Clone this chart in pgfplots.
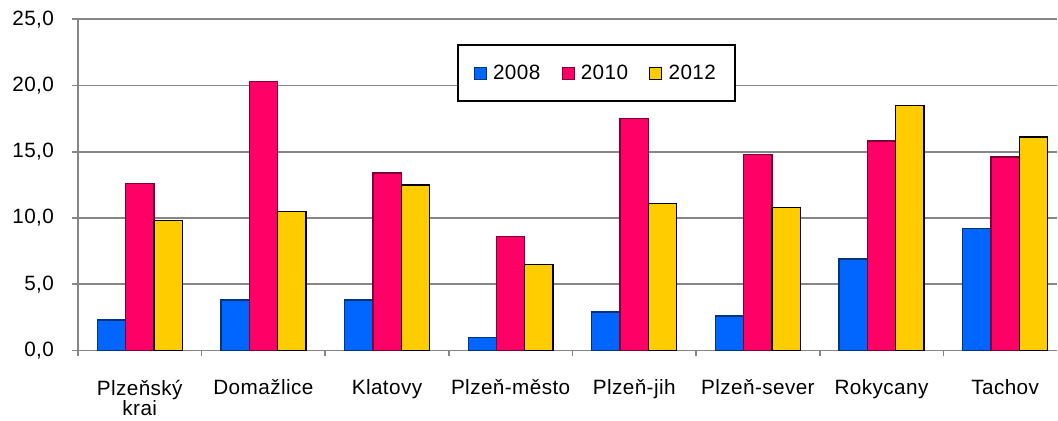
\documentclass[border=0pt]{standalone}
\usepackage{fontspec}
\setmainfont{Liberation Sans}[LetterSpace=2]
\usepackage{pgfplots}
\pgfplotsset{compat=1.18}
\definecolor{cblue}{HTML}{0066FF}
\definecolor{cred}{HTML}{FF0066}
\definecolor{cyel}{HTML}{FFCC00}
\definecolor{gridc}{HTML}{868686}
\begin{document}
\begin{tikzpicture}
\begin{axis}[
  scale only axis,
  width=735bp, height=248.6bp,
  xmin=0.5, xmax=8.42,
  ymin=0, ymax=25,
  ybar=0pt, bar width=0.229,
  axis x line=bottom, axis y line=left,
  axis line style={-, gridc, line width=1.4bp},
  tick align=outside,
  xtick={1,...,8},
  xticklabels={{Plzeňský\\krai},Domažlice,Klatovy,Plzeň-město,Plzeň-jih,Plzeň-sever,Rokycany,Tachov},
  x tick label style={align=center, anchor=north, yshift=-14bp, font=\fontsize{15.6}{14}\selectfont},
  major x tick style={draw=none},
  minor xtick={0.5,1.5,...,7.5},
  minor tick length=4.5bp,
  minor x tick style={gridc, line width=1.2bp},
  ytick={0,5,...,25},
  major tick length=4.5bp,
  major y tick style={gridc, line width=1.2bp},
  y tick label style={font=\fontsize{15.6}{16}\selectfont, xshift=-10bp},
  yticklabel style={/pgf/number format/.cd, use comma, fixed, fixed zerofill, precision=1, assume math mode=true},
  ymajorgrids,
  major grid style={gridc, line width=1.2bp},
  legend columns=3,
  legend style={at={(0.5293,0.837)}, anchor=center, draw=black, line width=1.5bp, fill=white,
    font=\fontsize{15.6}{16}\selectfont, inner xsep=12bp, inner ysep=13bp,
    /tikz/every even column/.append style={column sep=14bp}},
  legend image code/.code={\draw[#1,line width=0.8bp] (0bp,-4.5bp) rectangle (9bp,4.5bp); \path[draw=none,fill=none] (0bp,0bp) -- (12bp,0bp);},
  clip=false,
]
\addplot[fill=cblue, draw=cblue!50!black, line width=1bp] coordinates {(1,2.3) (2,3.8) (3,3.8) (4,1.0) (5,2.9) (6,2.6) (7,6.9) (8,9.2)};
\addplot[fill=cred, draw=cred!50!black, line width=1bp] coordinates {(1,12.6) (2,20.3) (3,13.4) (4,8.6) (5,17.5) (6,14.8) (7,15.8) (8,14.6)};
\addplot[fill=cyel, draw=black, line width=1bp] coordinates {(1,9.8) (2,10.5) (3,12.5) (4,6.5) (5,11.1) (6,10.8) (7,18.5) (8,16.1)};
\legend{2008,2010,2012}
\path (rel axis cs:-0.0796,-0.2031) rectangle (rel axis cs:1.0,1.0582);
\end{axis}
\end{tikzpicture}
\end{document}
